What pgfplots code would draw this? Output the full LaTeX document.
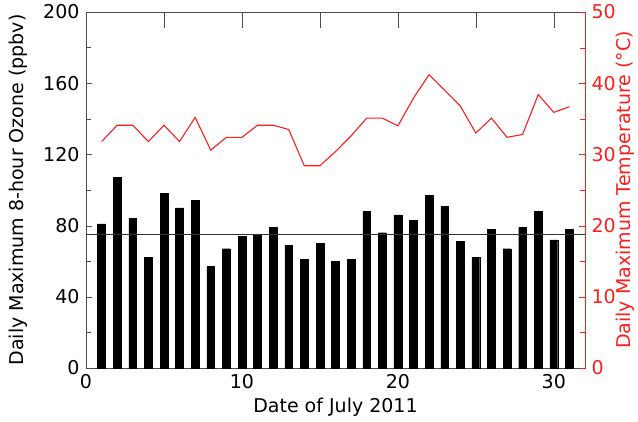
\documentclass[border=0pt]{standalone}
\usepackage{fontspec}
\setmainfont{DejaVu Sans}
\usepackage{pgfplots}
\pgfplotsset{compat=1.18}
\definecolor{tred}{RGB}{250,30,30}
\begin{document}
\fontsize{19}{22}\selectfont
\begin{tikzpicture}
\useasboundingbox (-86pt,-53pt) rectangle (552pt,368pt);
\begin{axis}[
  at={(0,0)}, anchor=south west,
  width=499pt, height=356pt, scale only axis,
  xmin=0, xmax=32, ymin=0, ymax=200,
  xtick={0,5,...,30}, xticklabels={0,,10,,20,,30},
  ytick={0,40,...,200}, minor ytick={20,60,...,180},
  ytick pos=left, xtick pos=both,
  tick align=inside,
  xtick style={/pgfplots/major tick length=16pt, black!70},
  ytick style={/pgfplots/major tick length=6pt, /pgfplots/minor tick length=5pt, black!70},
  axis line style={black!70, line width=0.8pt},
  /pgf/number format/assume math mode=true,
  ticklabel style={font=\fontsize{19}{22}\selectfont},
  xlabel={Date of July 2011},
  ylabel={Daily Maximum 8-hour Ozone (ppbv)},
  xlabel style={at={(axis description cs:0.5,-0.11)}, anchor=center},
  ylabel style={at={(axis description cs:-0.136,0.5)}, anchor=center},
  clip=false,
]
\addplot[ybar, bar width=0.5, fill=black, draw=black] coordinates {
(1,81) (2,107) (3,84) (4,62) (5,98) (6,90) (7,94) (8,57) (9,67) (10,74)
(11,75) (12,79) (13,69) (14,61) (15,70) (16,60) (17,61) (18,88) (19,76) (20,86)
(21,83) (22,97) (23,91) (24,71) (25,62) (26,78) (27,67) (28,79) (29,88) (30,72) (31,78)
};
\addplot[black!80, line width=0.8pt] coordinates {(0,75) (32,75)};
\end{axis}
\begin{axis}[
  at={(0,0)}, anchor=south west,
  width=499pt, height=356pt, scale only axis,
  xmin=0, xmax=32, ymin=0, ymax=50,
  axis x line=none, axis y line*=right,
  ytick={0,10,...,50}, minor ytick={5,15,...,45},
  tick align=inside,
  ytick style={/pgfplots/major tick length=6pt, /pgfplots/minor tick length=5pt, tred},
  y axis line style={tred, line width=0.8pt},
  yticklabel style={tred, font=\fontsize{19}{22}\selectfont},
  /pgf/number format/assume math mode=true,
  ylabel={Daily Maximum Temperature (°C)},
  ylabel style={tred, at={(axis description cs:1.08,0.5)}, anchor=center, rotate=0},
]
\addplot[tred, line width=1.1pt] coordinates {
(1,31.8) (2,34.1) (3,34.1) (4,31.8) (5,34.1) (6,31.8) (7,35.2) (8,30.6) (9,32.4) (10,32.4)
(11,34.1) (12,34.1) (13,33.5) (14,28.4) (15,28.4) (16,30.4) (17,32.6) (18,35.1) (19,35.1) (20,34.0)
(21,37.9) (22,41.2) (23,39.0) (24,36.8) (25,33.0) (26,35.1) (27,32.4) (28,32.8) (29,38.4) (30,35.9) (31,36.7)
};
\end{axis}
\end{tikzpicture}
\end{document}
